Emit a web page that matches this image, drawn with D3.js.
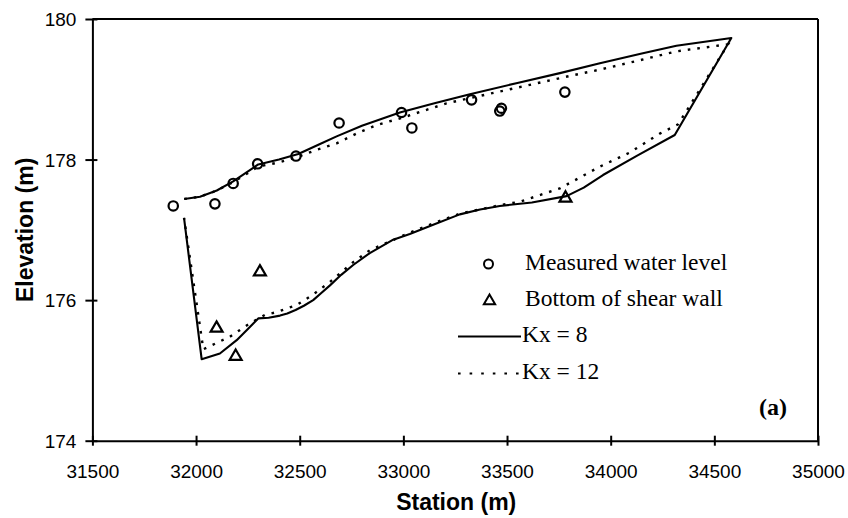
<!DOCTYPE html>
<html>
<head>
<meta charset="utf-8">
<script src="https://cdn.jsdelivr.net/npm/d3@7/dist/d3.min.js"></script>
<style>
  html, body { margin: 0; padding: 0; background: #fff; }
  svg { display: block; }
</style>
</head>
<body>
<svg id="chart" width="848" height="518"></svg>
<script>
// ---------------- DATA ----------------
const xTicks = [31500, 32000, 32500, 33000, 33500, 34000, 34500, 35000];
const yTicks = [174, 176, 178, 180];

// Measured water level (circles)
const measuredStation = [31890, 32091, 32179, 32297, 32482, 32690, 32991, 33041, 33329, 33473, 33465, 33779];
const measuredElev    = [177.34, 177.37, 177.66, 177.94, 178.05, 178.52, 178.67, 178.45, 178.85, 178.73, 178.69, 178.96];

// Bottom of shear wall (triangles)
const wallStation = [32099, 32191, 32308, 33782];
const wallElev    = [175.60, 175.20, 176.40, 177.45];

// Kx = 8 (solid): water surface, right end, bottom boundary, left end
const kx8Station = [31943, 32019, 32100, 32179, 32300, 32400, 32493, 32590, 32678, 32800, 32983, 33150, 33321, 33550, 33755, 33948, 34150, 34317, 34582,
                    34309, 34130, 33963, 33870, 33787, 33620, 33465, 33370, 33272, 33150, 33031, 32951, 32838, 32758, 32700, 32646, 32600, 32565, 32520, 32480, 32440, 32405, 32350, 32300, 32250, 32196, 32115, 32027, 31942];
const kx8Elev    = [177.44, 177.47, 177.56, 177.69, 177.93, 178.00, 178.08, 178.21, 178.33, 178.48, 178.67, 178.80, 178.93, 179.09, 179.23, 179.37, 179.51, 179.62, 179.73,
                    178.35, 178.06, 177.78, 177.60, 177.48, 177.39, 177.34, 177.29, 177.22, 177.08, 176.94, 176.86, 176.67, 176.50, 176.36, 176.21, 176.09, 176.00, 175.92, 175.86, 175.81, 175.78, 175.75, 175.74, 175.59, 175.43, 175.24, 175.16, 177.17];

// Kx = 12 (dotted)
const kx12Station = [31943, 32019, 32100, 32179, 32300, 32400, 32493, 32582, 32678, 32774, 32871, 33000, 33208, 33498, 33803, 33948, 34150, 34317, 34566,
                     34414, 34325, 34237, 34092, 33948, 33755, 33562, 33465, 33272, 33150, 33031, 32838, 32758, 32646, 32565, 32485, 32389, 32332, 32260, 32163, 32099, 32035, 31942];
const kx12Elev    = [177.44, 177.47, 177.56, 177.68, 177.90, 177.96, 178.04, 178.14, 178.23, 178.37, 178.49, 178.60, 178.80, 178.99, 179.19, 179.28, 179.42, 179.54, 179.64,
                     178.92, 178.50, 178.37, 178.10, 177.90, 177.59, 177.40, 177.35, 177.23, 177.10, 176.96, 176.71, 176.54, 176.26, 176.08, 175.93, 175.83, 175.79, 175.67, 175.48, 175.39, 175.30, 177.17];

const legendLabels = ["Measured water level", "Bottom of shear wall", "Kx = 8", "Kx = 12"];
const xTitle = "Station (m)";
const yTitle = "Elevation (m)";
const panelLabel = "(a)";

// ---------------- CHART ----------------
(function () {
const svg = d3.select("#chart");
const pL = 92.4, pR = 818, pT = 19, pB = 440.7;

const x = d3.scaleLinear().domain([31500, 35000]).range([pL, pR]);
const y = d3.scaleLinear().domain([174, 180]).range([pB, pT]);

const sans = "'Liberation Sans', Arial, sans-serif";
const serif = "'Liberation Serif', 'Times New Roman', serif";
const dash = "2.6,7";

// frame (top and right border)
svg.append("line").attr("x1", pL).attr("x2", pR).attr("y1", pT).attr("y2", pT)
  .attr("stroke", "#000").attr("stroke-width", 2);
svg.append("line").attr("x1", pR).attr("x2", pR).attr("y1", pT).attr("y2", pB)
  .attr("stroke", "#000").attr("stroke-width", 2);

// x axis
const gx = svg.append("g").attr("transform", `translate(0,${pB})`)
  .call(d3.axisBottom(x).tickValues(xTicks).tickFormat(d3.format("d")).tickSizeOuter(0).tickPadding(0));
gx.select(".domain").attr("stroke-width", 2).attr("stroke", "#000");
gx.selectAll(".tick line").attr("y1", -5).attr("y2", 5).attr("stroke-width", 2);
gx.selectAll(".tick text").attr("y", 37).attr("dy", null)
  .attr("font-family", sans).attr("font-size", 19).attr("fill", "#000");

// y axis
const gy = svg.append("g").attr("transform", `translate(${pL},0)`)
  .call(d3.axisLeft(y).tickValues(yTicks).tickFormat(d3.format("d")).tickSizeOuter(0).tickPadding(0));
gy.select(".domain").attr("stroke-width", 2).attr("stroke", "#000");
gy.selectAll(".tick line").attr("x1", -7).attr("x2", 5).attr("stroke-width", 2);
gy.selectAll(".tick text").attr("x", -16).attr("dy", "0.35em")
  .attr("font-family", sans).attr("font-size", 19).attr("fill", "#000");

// axis titles
svg.append("text").attr("x", (pL + pR) / 2 + 1).attr("y", 510)
  .attr("text-anchor", "middle").attr("font-family", sans).attr("font-weight", "bold")
  .attr("font-size", 23).text(xTitle);
svg.append("text").attr("transform", `translate(33,${(pT + pB) / 2}) rotate(-90)`)
  .attr("text-anchor", "middle").attr("font-family", sans).attr("font-weight", "bold")
  .attr("font-size", 23).text(yTitle);

// lines
const line = d3.line().x(d => x(d[0])).y(d => y(d[1])).curve(d3.curveLinear);
const kx8 = d3.zip(kx8Station, kx8Elev);
const kx12 = d3.zip(kx12Station, kx12Elev);

svg.append("path").datum(kx12).attr("d", line)
  .attr("fill", "none").attr("stroke", "#000").attr("stroke-width", 2.4)
  .attr("stroke-dasharray", dash);
svg.append("path").datum(kx8).attr("d", line)
  .attr("fill", "none").attr("stroke", "#000").attr("stroke-width", 2.1)
  .attr("stroke-linejoin", "round");

// circles
svg.append("g").selectAll("circle").data(d3.zip(measuredStation, measuredElev)).join("circle")
  .attr("cx", d => x(d[0])).attr("cy", d => y(d[1])).attr("r", 4.7)
  .attr("fill", "none").attr("stroke", "#000").attr("stroke-width", 2.2);

// triangles
const tri = d3.symbol().type(d3.symbolTriangle).size(62);
svg.append("g").selectAll("path").data(d3.zip(wallStation, wallElev)).join("path")
  .attr("transform", d => `translate(${x(d[0])},${y(d[1])})`)
  .attr("d", tri).attr("fill", "none").attr("stroke", "#000").attr("stroke-width", 2.2);

// legend
const lg = svg.append("g");
lg.append("circle").attr("cx", 488.5).attr("cy", 264).attr("r", 4.5)
  .attr("fill", "none").attr("stroke", "#000").attr("stroke-width", 2);
lg.append("path").attr("transform", "translate(489.5,301)").attr("d", d3.symbol().type(d3.symbolTriangle).size(55))
  .attr("fill", "none").attr("stroke", "#000").attr("stroke-width", 2);
lg.append("line").attr("x1", 458).attr("x2", 521).attr("y1", 336.5).attr("y2", 336.5)
  .attr("stroke", "#000").attr("stroke-width", 2);
lg.append("line").attr("x1", 458).attr("x2", 521).attr("y1", 373.5).attr("y2", 373.5)
  .attr("stroke", "#000").attr("stroke-width", 2.2).attr("stroke-dasharray", "2.6,9");
const legendY = [269.5, 305.5, 342, 378.5];
const legendX = [525, 525, 522, 522];
legendLabels.forEach((t, i) => {
  lg.append("text").attr("x", legendX[i]).attr("y", legendY[i])
    .attr("font-family", serif).attr("font-size", 23.5).attr("fill", "#000").text(t);
});

svg.append("text").attr("x", 787).attr("y", 415).attr("text-anchor", "end")
  .attr("font-family", serif).attr("font-weight", "bold").attr("font-size", 24).text(panelLabel);
})();
</script>
</body>
</html>
